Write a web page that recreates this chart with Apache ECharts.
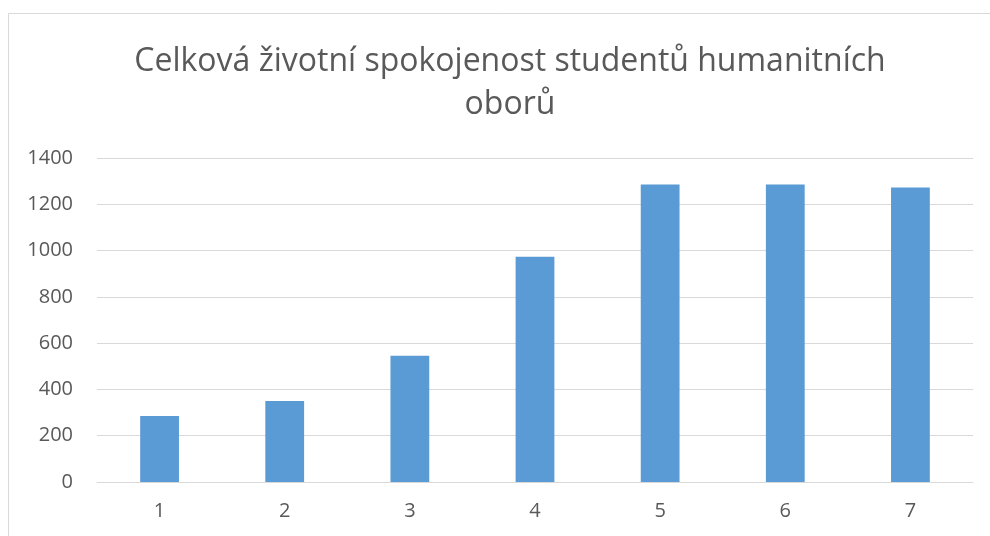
<!DOCTYPE html>
<html>
<head>
<meta charset="utf-8">
<script src="https://cdn.jsdelivr.net/npm/echarts@6/dist/echarts.min.js"></script>
<style>
  html, body { margin: 0; padding: 0; background: #fff; }
  #chart { width: 990px; height: 536px; }
</style>
</head>
<body>
<div id="chart"></div>
<script>
// data
const categories = ['1', '2', '3', '4', '5', '6', '7']
const values = [285, 350, 545, 973, 1286, 1285, 1272]
const titleLines = ['Celková životní spokojenost studentů humanitních', 'oborů']

const chart = echarts.init(document.getElementById('chart'))

chart.setOption({
  animation: false,
  textStyle: { fontFamily: 'Open Sans' },
  title: {
    text: titleLines.join('\n'),
    left: 505,
    top: 35,
    textAlign: 'center',
    textStyle: {
      fontFamily: 'Open Sans',
      fontSize: 32,
      fontWeight: 'normal',
      color: '#595959',
      lineHeight: 43
    }
  },
  graphic: [{
    type: 'rect',
    shape: { x: 8.5, y: 13.5, width: 1000, height: 600 },
    style: { fill: 'none', stroke: '#d9d9d9', lineWidth: 1 },
    silent: true
  }],
  grid: {
    left: 97,
    right: 17,
    top: 158,
    bottom: 54
  },
  xAxis: {
    type: 'category',
    data: categories,
    axisLine: { lineStyle: { color: '#d9d9d9', width: 1 } },
    axisTick: { show: false },
    axisLabel: { color: '#595959', fontSize: 20, margin: 19 }
  },
  yAxis: {
    type: 'value',
    min: 0,
    max: 1400,
    interval: 200,
    axisLine: { show: false },
    axisTick: { show: false },
    splitLine: { lineStyle: { color: '#d9d9d9', width: 1 } },
    axisLabel: {
      color: '#595959',
      fontSize: 20,
      margin: 24,
      formatter: function (v) { return String(v) }
    }
  },
  series: [{
    type: 'bar',
    data: values,
    barWidth: '31%',
    itemStyle: { color: '#5b9bd5' }
  }]
})
</script>
</body>
</html>
